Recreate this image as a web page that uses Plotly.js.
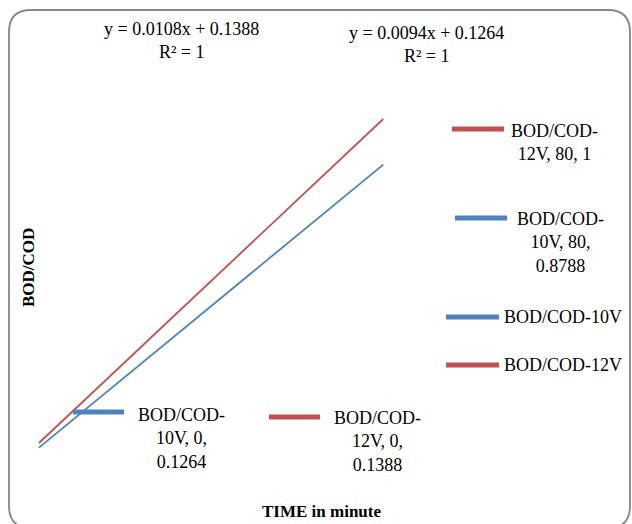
<!DOCTYPE html>
<html><head><meta charset="utf-8">
<script src="https://cdn.plot.ly/plotly-3.0.1.min.js"></script>
<style>html,body{margin:0;padding:0;background:#fff}</style>
</head><body><div id="chart" style="width:632px;height:524px"></div>
<script>
const time = [0, 80];
const series10Name = "BOD/COD-10V";
const series12Name = "BOD/COD-12V";
const bodcod10V = [0.1264, 0.8788];
const bodcod12V = [0.1388, 1];
const trend12 = "y = 0.0108x + 0.1388<br>R² = 1";
const trend10 = "y = 0.0094x + 0.1264<br>R² = 1";

const RED = "#C0504D", BLUE = "#4F81BD";
const W = 632, H = 524;
const px = x => x / W, py = y => 1 - y / H;
const FONT = "Liberation Serif";
const fs = 18;

function lbl(name, x, y) {
  const parts = name.split("-");
  const rest = parts[1] + ", " + x + ", " + y;
  if (rest.length <= 10) return parts[0] + "-<br>" + rest;
  return parts[0] + "-<br>" + parts[1] + ", " + x + ",<br>" + y;
}

const traces = [
  {x: time, y: bodcod12V, mode: "lines", line: {color: RED, width: 1.8}, showlegend: false, hoverinfo: "skip"},
  {x: time, y: bodcod10V, mode: "lines", line: {color: BLUE, width: 1.8}, showlegend: false, hoverinfo: "skip"}
];

function ann(text, x, y, opts) {
  return Object.assign({text: text, x: px(x), y: py(y), xref: "paper", yref: "paper",
    showarrow: false, font: {family: FONT, size: fs, color: "#000"}, align: "center",
    xanchor: "center", yanchor: "middle"}, opts || {});
}
function seg(x0, x1, y, color) {
  return {type: "line", xref: "paper", yref: "paper", x0: px(x0), x1: px(x1), y0: py(y), y1: py(y),
    line: {color: color, width: 5}};
}

// rounded border
const L = 9, T = 10, R = 630, B = 528, r = 22;
const border = "M " + px(L + r) + "," + py(T) + " L " + px(R - r) + "," + py(T) +
  " Q " + px(R) + "," + py(T) + " " + px(R) + "," + py(T + r) +
  " L " + px(R) + "," + py(B - r) + " Q " + px(R) + "," + py(B) + " " + px(R - r) + "," + py(B) +
  " L " + px(L + r) + "," + py(B) + " Q " + px(L) + "," + py(B) + " " + px(L) + "," + py(B - r) +
  " L " + px(L) + "," + py(T + r) + " Q " + px(L) + "," + py(T) + " " + px(L + r) + "," + py(T) + " Z";

const annotations = [
  ann(trend12, 181, 41),
  ann(trend10, 426, 44),
  ann(lbl(series12Name, time[1], bodcod12V[1]), 554, 143),
  ann(lbl(series10Name, time[1], bodcod10V[1]), 560, 242),
  ann(series10Name, 502, 317, {xanchor: "left"}),
  ann(series12Name, 502, 365, {xanchor: "left"}),
  ann(lbl(series10Name, time[0], bodcod10V[0]), 181, 438),
  ann(lbl(series12Name, time[0], bodcod12V[0]), 377, 441),
  ann("<b>TIME in minute</b>", 321, 511, {font: {family: FONT, size: 17, color: "#000"}}),
  ann("<b>BOD/COD</b>", 28, 268, {textangle: -90, font: {family: FONT, size: 17, color: "#000"}})
];

const shapes = [
  {type: "path", xref: "paper", yref: "paper", path: border, line: {color: "#868686", width: 1.8}},
  seg(452, 504, 129, RED),
  seg(455, 507, 218, BLUE),
  seg(446, 499, 317, BLUE),
  seg(446, 499, 365, RED),
  seg(73, 124, 412, BLUE),
  seg(269, 320, 417, RED)
];

const layout = {
  width: W, height: H,
  margin: {l: 0, r: 0, t: 0, b: 0},
  paper_bgcolor: "#fff", plot_bgcolor: "rgba(0,0,0,0)",
  xaxis: {range: [-9.06, 137.8], visible: false, fixedrange: true},
  yaxis: {range: [-0.0766, 1.3163], visible: false, fixedrange: true},
  annotations: annotations,
  shapes: shapes,
  showlegend: false
};
Plotly.newPlot("chart", traces, layout, {staticPlot: true, displayModeBar: false});
</script></body></html>
